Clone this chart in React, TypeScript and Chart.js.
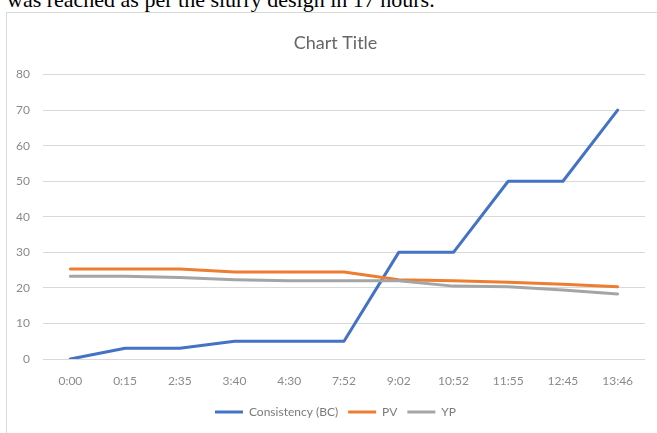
import React, { useEffect, useRef } from "react";
import { Chart, registerables } from "chart.js";

Chart.register(...registerables);

const categories = ["0:00", "0:15", "2:35", "3:40", "4:30", "7:52", "9:02", "10:52", "11:55", "12:45", "13:46"];
const consistencyBC = [0, 3, 3, 5, 5, 5, 30, 30, 50, 50, 70];
const pv = [25.3, 25.3, 25.3, 24.5, 24.5, 24.5, 22.3, 22, 21.6, 21, 20.3];
const yp = [23.3, 23.3, 22.9, 22.3, 22, 22, 22, 20.5, 20.3, 19.4, 18.3];
const seriesNames = ["Consistency (BC)", "PV", "YP"];
const yTicks = { min: 0, max: 80, step: 10 };
const titleText = "Chart Title";
const captionText = "was reached as per the slurry design in 17 hours.";

const FONT = "Lato, 'Open Sans', sans-serif";

const shiftBoxes = {
  id: "shiftBoxes",
  afterLayout(chart: any) {
    const dx = 13;
    if (chart.legend) {
      chart.legend.left += dx;
      chart.legend.right += dx;
    }
    if (chart.titleBlock) {
      chart.titleBlock.left += dx;
      chart.titleBlock.right += dx;
    }
  },
};

export default function App() {
  const ref = useRef<HTMLCanvasElement | null>(null);

  useEffect(() => {
    if (!ref.current) return;
    const mk = (label: string, data: number[], color: string, order: number) => ({
      label,
      data,
      borderColor: color,
      backgroundColor: color,
      borderWidth: 3,
      pointRadius: 0,
      pointHoverRadius: 0,
      tension: 0,
      borderJoinStyle: "round" as const,
      borderCapStyle: "round" as const,
      order,
    });
    const chart = new Chart(ref.current, {
      type: "line",
      data: {
        labels: categories,
        datasets: [
          mk(seriesNames[0], consistencyBC, "#4472C4", 3),
          mk(seriesNames[1], pv, "#ED7D31", 2),
          mk(seriesNames[2], yp, "#A5A5A5", 1),
        ],
      },
      plugins: [shiftBoxes],
      options: {
        animation: false,
        responsive: false,
        layout: { padding: { left: 0, right: 12, top: 0, bottom: 5 } },
        plugins: {
          title: {
            display: true,
            text: titleText,
            color: "#666666",
            font: { family: FONT, size: 18, weight: "normal" },
            padding: { top: 32, bottom: 21 },
          },
          legend: {
            display: true,
            position: "bottom",
            labels: {
              color: "#7a7a7a",
              font: { family: FONT, size: 12 },
              usePointStyle: true,
              pointStyle: "line",
              pointStyleWidth: 28,
              padding: 10,
              sort: (a: any, b: any) => a.datasetIndex - b.datasetIndex,
            },
          },
          tooltip: { enabled: false },
        },
        scales: {
          x: {
            type: "category",
            offset: true,
            grid: { display: false, drawTicks: false },
            border: { display: false },
            ticks: {
              color: "#8a8a8a",
              font: { family: FONT, size: 12 },
              padding: 15,
              maxRotation: 0,
              autoSkip: false,
            },
            afterFit: (scale: any) => {
              scale.height = 37;
            },
          },
          y: {
            min: yTicks.min,
            max: yTicks.max,
            ticks: {
              stepSize: yTicks.step,
              color: "#8a8a8a",
              font: { family: FONT, size: 12 },
              padding: 13,
            },
            grid: { color: "#d9d9d9", lineWidth: 1, drawTicks: false },
            border: { display: false },
            afterFit: (scale: any) => {
              scale.width = 43;
            },
          },
        },
      },
    });
    return () => chart.destroy();
  }, []);

  return (
    <div style={{ position: "relative", width: 657, height: 433, overflow: "hidden", background: "#fff" }}>
      <style>{`body{margin:0}`}</style>
      <div
        style={{
          position: "absolute",
          left: 7,
          top: -11,
          fontFamily: "'Liberation Serif', 'Times New Roman', serif",
          fontSize: 22,
          lineHeight: "22px",
          color: "#000",
          whiteSpace: "nowrap",
        }}
      >
        {captionText}
      </div>
      <div
        style={{
          position: "absolute",
          left: 6,
          top: 12,
          width: 700,
          height: 500,
          border: "1px solid #d9d9d9",
          boxSizing: "border-box",
        }}
      />
      <canvas
        ref={ref}
        width={657}
        height={433}
        style={{ position: "absolute", left: 0, top: 0, display: "block" }}
      />
    </div>
  );
}
